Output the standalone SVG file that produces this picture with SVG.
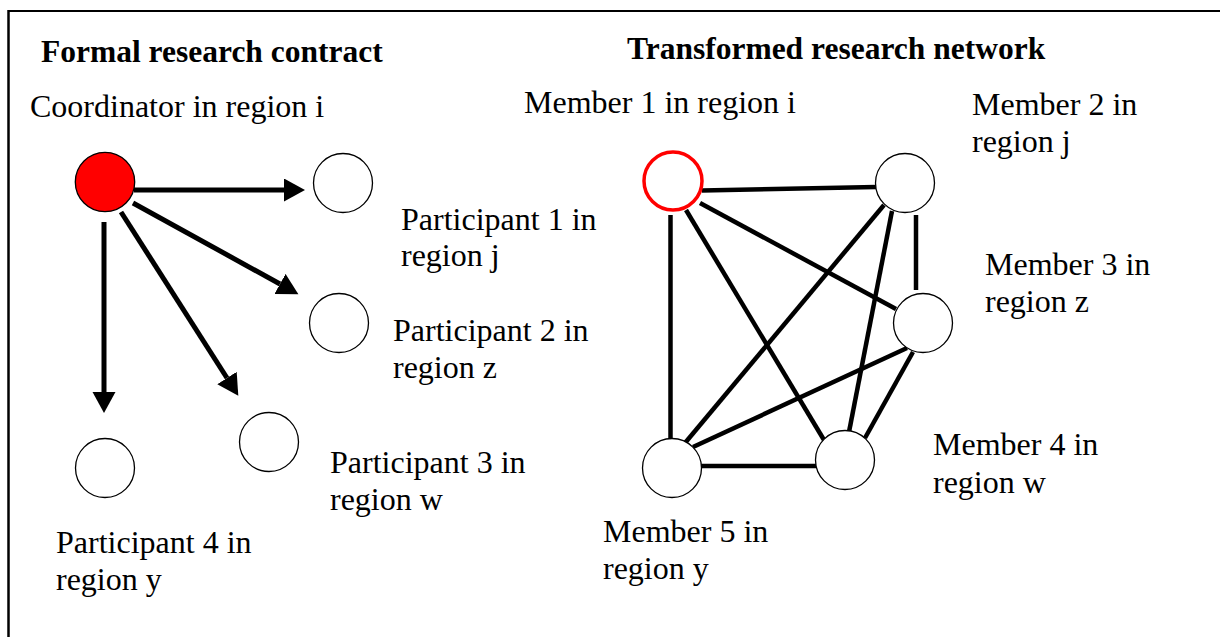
<svg xmlns="http://www.w3.org/2000/svg" width="1220" height="637" viewBox="0 0 1220 637">
<defs>
<style>
text{font-family:"Liberation Serif","Times New Roman",serif;font-size:32px;fill:#000}
.title{font-weight:bold;font-size:31.5px}
.node{fill:#fff;stroke:#000;stroke-width:1.3}
.arrow{stroke:#000;stroke-width:5;fill:none}
.edge{stroke:#000;stroke-width:4.5;fill:none}
</style>
<marker id="ah" markerUnits="userSpaceOnUse" markerWidth="22" markerHeight="24" refX="0" refY="11.5" orient="auto">
<path d="M0,0 L21,11.5 L0,23 z" fill="#000"/>
</marker>
</defs>
<rect width="1220" height="637" fill="#fff"/>
<g id="frame">
<line x1="8.5" y1="11" x2="1220" y2="11" stroke="#000" stroke-width="2"/>
<line x1="8.5" y1="10" x2="8.5" y2="637" stroke="#000" stroke-width="2.5"/>
</g>
<g id="titles">
<text class="title" x="41" y="62">Formal research contract</text>
<text class="title" x="627" y="59">Transformed research network</text>
</g>
<g id="connectors">
<line class="arrow" x1="134" y1="190" x2="284" y2="190" marker-end="url(#ah)"/>
<line class="arrow" x1="133" y1="203" x2="280" y2="284" marker-end="url(#ah)"/>
<line class="arrow" x1="104" y1="222" x2="104" y2="392" marker-end="url(#ah)"/>
<line class="arrow" x1="121" y1="212" x2="227" y2="378" marker-end="url(#ah)"/>
<line class="edge" x1="702" y1="190.5" x2="876" y2="187"/>
<line class="edge" x1="700" y1="203" x2="896" y2="309"/>
<line class="edge" x1="686" y1="210" x2="824" y2="440"/>
<line class="edge" x1="670.5" y1="215" x2="670.5" y2="439"/>
<line class="edge" x1="916" y1="215" x2="916" y2="290"/>
<line class="edge" x1="884" y1="205" x2="685" y2="443"/>
<line class="edge" x1="892" y1="211" x2="849" y2="432"/>
<line class="edge" x1="907" y1="348" x2="693" y2="447"/>
<line class="edge" x1="913" y1="352" x2="865" y2="438"/>
<line class="edge" x1="700" y1="466" x2="817" y2="466" stroke-width="5.5"/>
</g>
<g id="coordinator">
<circle cx="105" cy="182" r="29.7" fill="#f00" stroke="#000" stroke-width="1.3"/>
<text x="30" y="117">Coordinator in region i</text>
</g>
<g id="participant1">
<circle class="node" cx="343" cy="183" r="29.5"/>
<text x="401" y="230">Participant 1 in</text>
<text x="401" y="266">region j</text>
</g>
<g id="participant2">
<circle class="node" cx="339" cy="323" r="29.5"/>
<text x="393" y="341">Participant 2 in</text>
<text x="393" y="378">region z</text>
</g>
<g id="participant3">
<circle class="node" cx="269" cy="442" r="29.5"/>
<text x="330" y="473">Participant 3 in</text>
<text x="330" y="510">region w</text>
</g>
<g id="participant4">
<circle class="node" cx="105" cy="468" r="29.5"/>
<text x="56" y="553">Participant 4 in</text>
<text x="56" y="590">region y</text>
</g>
<g id="member1">
<circle cx="673" cy="181" r="29" fill="#fff" stroke="#f00" stroke-width="3.5"/>
<text x="524" y="113">Member 1 in region i</text>
</g>
<g id="member2">
<circle class="node" cx="905" cy="183" r="29.5"/>
<text x="972" y="115">Member 2 in</text>
<text x="972" y="152">region j</text>
</g>
<g id="member3">
<circle class="node" cx="923" cy="323" r="29.5"/>
<text x="985" y="275">Member 3 in</text>
<text x="985" y="312">region z</text>
</g>
<g id="member4">
<circle class="node" cx="845" cy="460" r="29.5"/>
<text x="933" y="455">Member 4 in</text>
<text x="933" y="493">region w</text>
</g>
<g id="member5">
<circle class="node" cx="672" cy="468" r="29.5"/>
<text x="603" y="542">Member 5 in</text>
<text x="603" y="579">region y</text>
</g>
</svg>
